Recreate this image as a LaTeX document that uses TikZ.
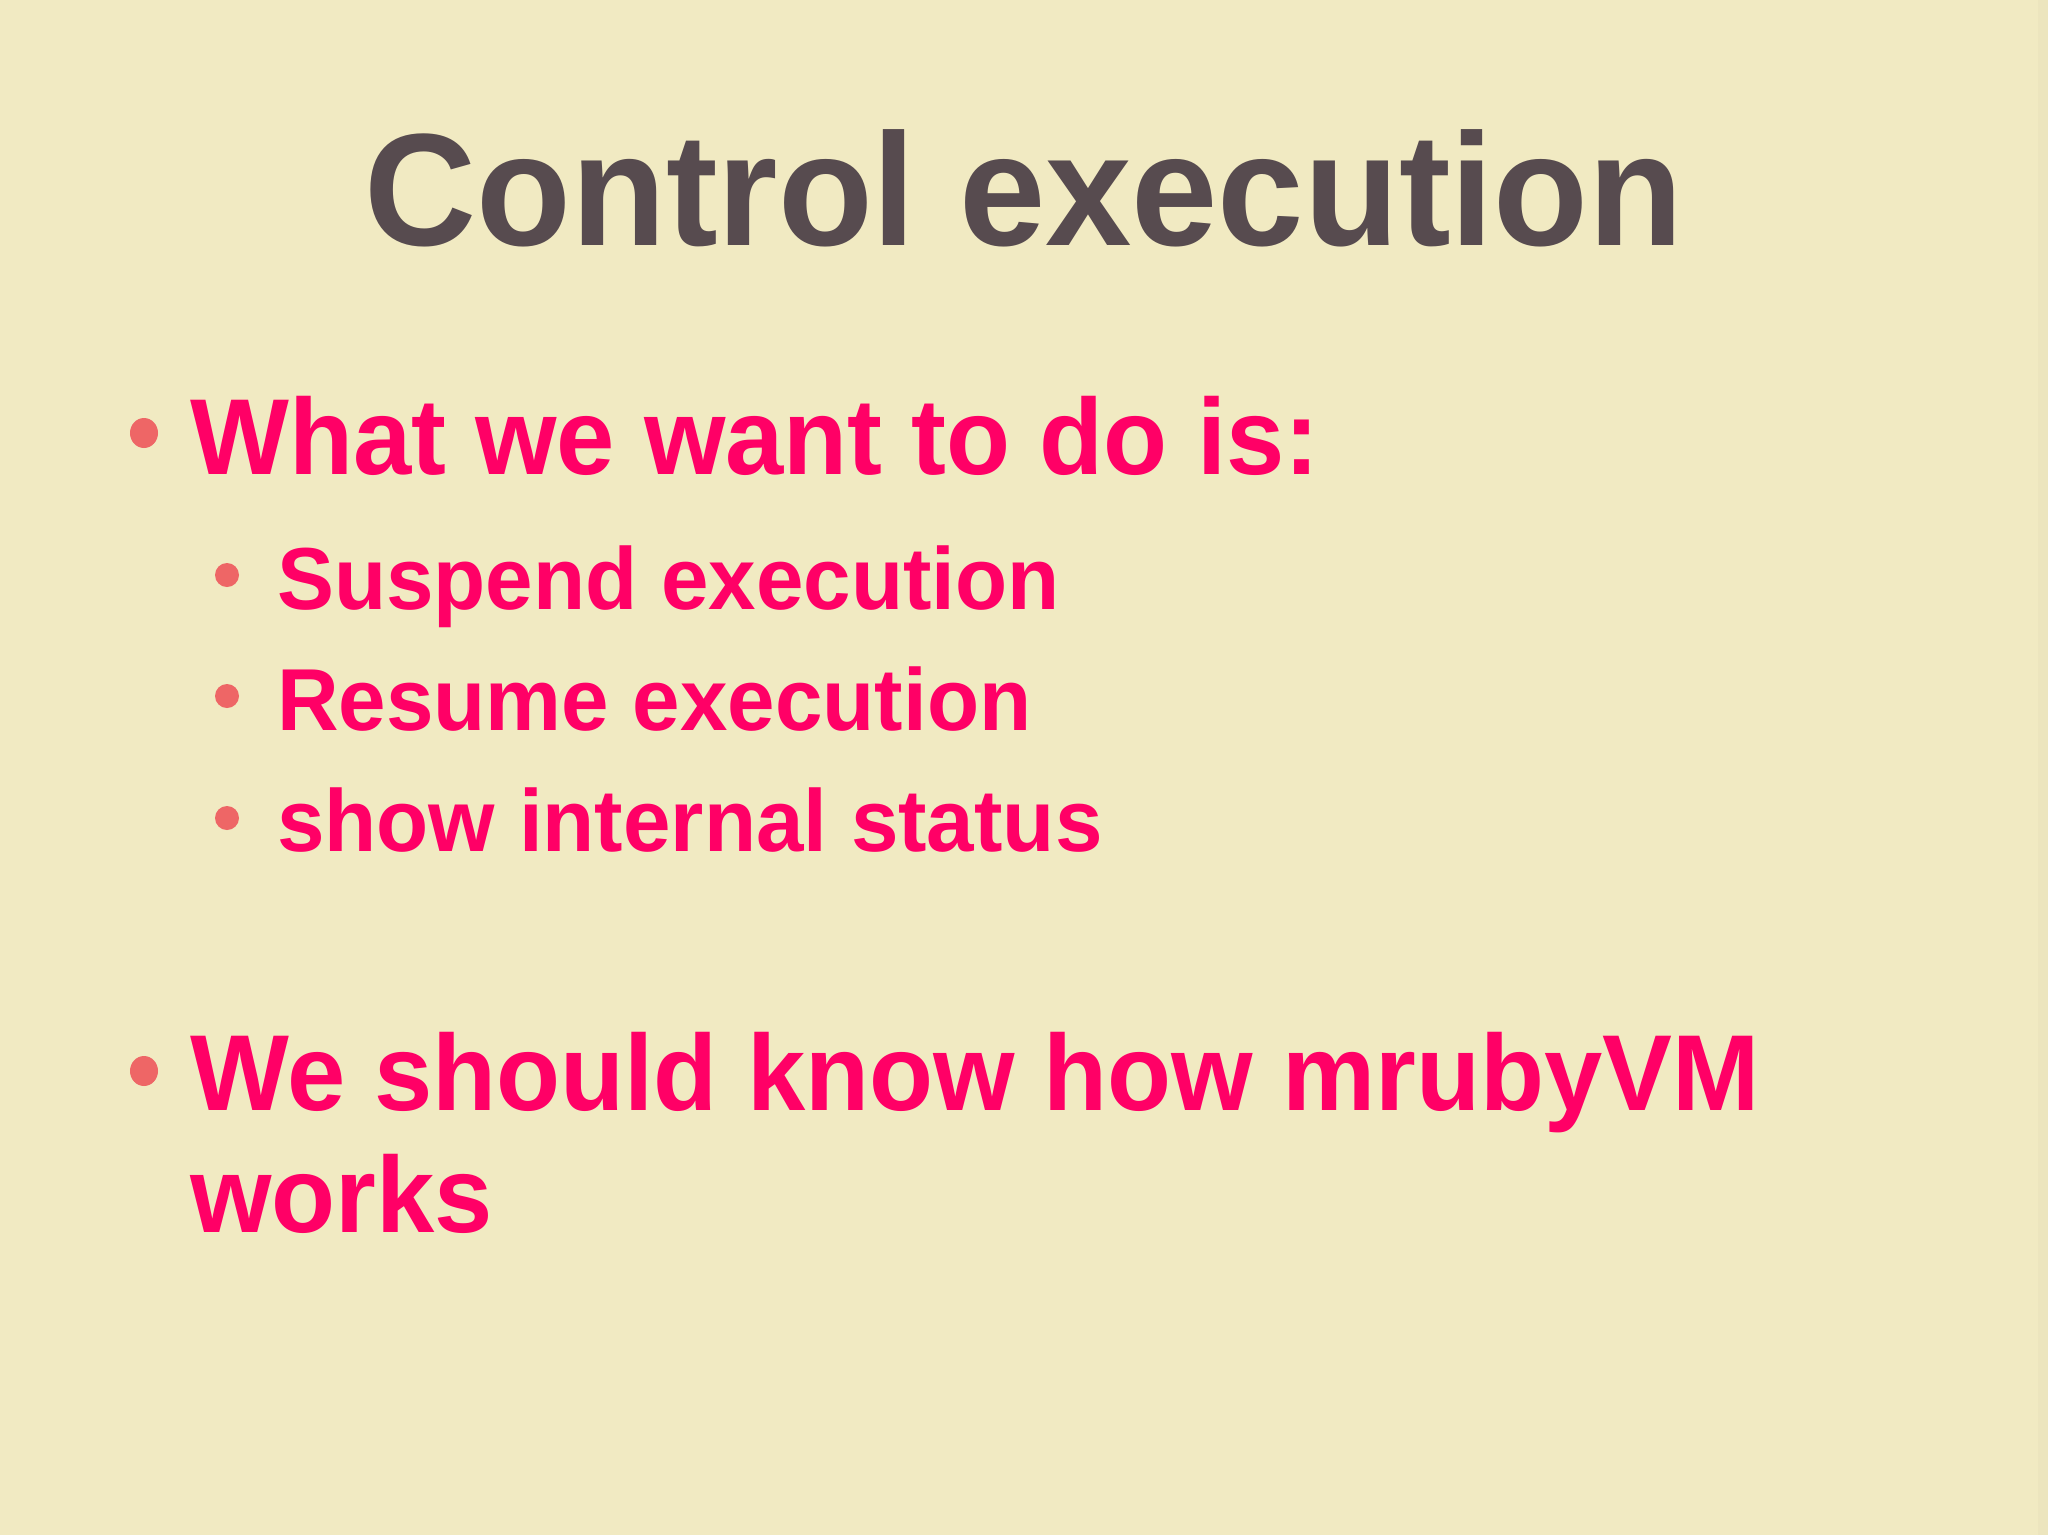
\documentclass[tikz,border=0pt]{standalone}
\usepackage{fontspec}
\setmainfont{Liberation Sans}[FakeStretch=0.97]
\definecolor{bg}{HTML}{F1EAC2}
\definecolor{titlec}{HTML}{574B4F}
\definecolor{pinkc}{HTML}{FF0066}
\definecolor{dotc}{HTML}{EE6666}
\tikzset{
  titletext/.style={inner sep=0, anchor=base, text=titlec, font=\bfseries\fontsize{160}{160}\selectfont},
  bigtext/.style={inner sep=0, anchor=base west, text=pinkc, font=\bfseries\fontsize{108}{108}\selectfont},
  subtext/.style={inner sep=0, anchor=base west, text=pinkc, font=\bfseries\fontsize{88}{88}\selectfont},
  bigdot/.style={fill=dotc, draw=none},
  subdot/.style={fill=dotc, draw=none}
}
\begin{document}
\begin{tikzpicture}[x=1pt,y=-1pt]
  \fill[bg] (0,0) rectangle (2048,1535);
  \useasboundingbox (0,0) rectangle (2048,1535);
  \fill[color=bg!98!black] (2038,0) rectangle (2048,1535);
  \node[titletext] (title) at (1024,245) {Control execution};
  % bullet 1
  \fill[bigdot] (144,433) ellipse (14 and 15);
  \node[bigtext] (b1) at (190,474) {What we want to do is:};
  % sub bullets
  \fill[subdot] (227,575) circle (12);
  \node[subtext] (s1) at (277,609) {Suspend execution};
  \fill[subdot] (227,696) circle (12);
  \node[subtext] (s2) at (277,730) {Resume execution};
  \fill[subdot] (227,818) circle (12);
  \node[subtext] (s3) at (277,851) {show internal status};
  % bullet 2
  \fill[bigdot] (144,1071) ellipse (14 and 15);
  \node[bigtext] (b2) at (190,1110) {We should know how mrubyVM};
  \node[bigtext] (b3) at (190,1232) {works};
\end{tikzpicture}
\end{document}
